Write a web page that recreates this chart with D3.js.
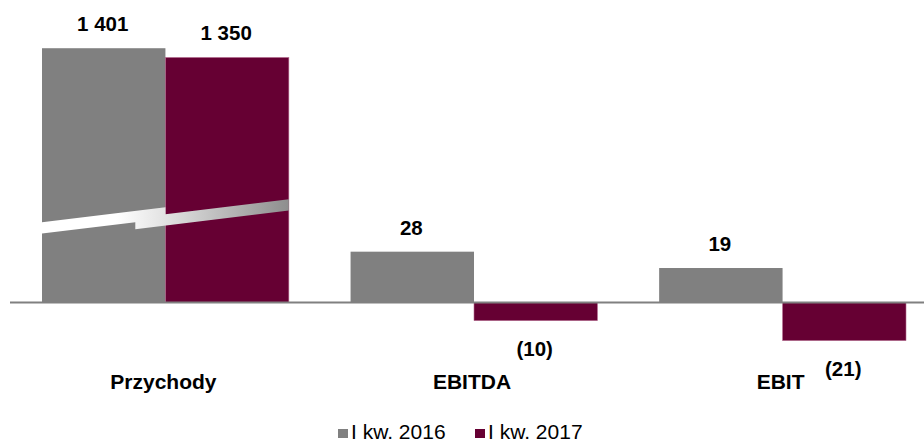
<!DOCTYPE html>
<html>
<head>
<meta charset="utf-8">
<script src="https://cdn.jsdelivr.net/npm/d3@7"></script>
<style>
  html, body { margin: 0; padding: 0; background: #fff; }
  svg { display: block; font-family: "Liberation Sans", Arial, Helvetica, sans-serif; }
</style>
</head>
<body>
<svg id="chart" width="924" height="443"></svg>
<script>
// ---- data ----
const categories = ["Przychody", "EBITDA", "EBIT"];
const seriesNames = ["I kw. 2016", "I kw. 2017"];
const values2016 = [1401, 28, 19];
const values2017 = [1350, -10, -21];
// Przychody drawn at 1/10 scale (broken axis)
const displayFactor = [0.1, 1, 1];
const brokenCategory = "Przychody";
const colors = ["#808080", "#660033"];

// ---- layout ----
const W = 924, H = 443;
const svg = d3.select("#chart");

const x0 = d3.scaleBand().domain(categories).range([42, 906]).paddingInner(0.2).paddingOuter(0);
const x1 = d3.scaleBand().domain([0, 1]).range([0, x0.bandwidth()]).padding(0);
const y = d3.scaleLinear().domain([-30, 150]).range([356.95, 30.25]);

const locale = d3.formatLocale({decimal: ",", thousands: " ", grouping: [3], currency: ["", " zł"]});
const fmtInt = locale.format(",d");
const fmt = v => v < 0 ? "(" + fmtInt(-v) + ")" : fmtInt(v);

const data = [];
categories.forEach((c, i) => {
  [values2016[i], values2017[i]].forEach((v, s) => {
    data.push({cat: c, s, v, dv: v * displayFactor[i]});
  });
});

// gradient for break band
const defs = svg.append("defs");
const bx = x0(brokenCategory);
const grad = defs.append("linearGradient")
  .attr("id", "breakGrad").attr("gradientUnits", "userSpaceOnUse")
  .attr("x1", bx).attr("x2", bx + x0.bandwidth()).attr("y1", 0).attr("y2", 0);
grad.append("stop").attr("offset", 0).attr("stop-color", "#ffffff");
grad.append("stop").attr("offset", 0.3).attr("stop-color", "#ffffff");
grad.append("stop").attr("offset", 0.5).attr("stop-color", "#e2e2e2");
grad.append("stop").attr("offset", 1).attr("stop-color", "#8e8e8e");

// bars
svg.append("g").selectAll("rect").data(data).join("rect")
  .attr("x", d => x0(d.cat) + x1(d.s))
  .attr("width", x1.bandwidth())
  .attr("y", d => Math.min(y(d.dv), y(0)))
  .attr("height", d => Math.abs(y(d.dv) - y(0)))
  .attr("fill", d => colors[d.s])
  .attr("stroke", d => d.s === 1 ? "#b56b8f" : "none")
  .attr("stroke-width", 0.6);

// break band across Przychody bars
(function () {
  const bw = x1.bandwidth();
  const slope = -0.122;
  const xl = bx, xm = bx + bw, xs = bx + bw * 0.756, xr = bx + 2 * bw;
  const t1 = y(44.2), th = 11.3, shift = 7;
  const L1t = xx => t1 + slope * (xx - xl);
  const L1b = xx => t1 + th + slope * (xx - xl);
  const L2t = xx => L1t(xx) + shift;
  const L2b = xx => L1b(xx) + shift;
  const pts = [
    [xl, L1t(xl)], [xm, L1t(xm)], [xm, L2t(xm)], [xr, L2t(xr)],
    [xr, L2b(xr)], [xs, L2b(xs)], [xs, L1b(xs)], [xl, L1b(xl)]
  ];
  svg.append("path").attr("d", d3.line()(pts) + "Z").attr("fill", "url(#breakGrad)");
})();

// baseline
svg.append("line")
  .attr("x1", 10).attr("x2", W)
  .attr("y1", y(0)).attr("y2", y(0))
  .attr("stroke", "#808080").attr("stroke-width", 2);

// value labels
svg.append("g").selectAll("text").data(data).join("text")
  .attr("x", d => x0(d.cat) + x1(d.s) + x1.bandwidth() / 2 - 1)
  .attr("y", d => d.v >= 0 ? y(d.dv) - 17 : y(d.dv) + 35)
  .attr("text-anchor", "middle")
  .attr("font-size", "20.5px").attr("font-weight", "bold").attr("fill", "#000")
  .text(d => fmt(d.v));

// category labels
svg.append("g").selectAll("text").data(categories).join("text")
  .attr("x", d => x0(d) + x0.bandwidth() / 2 - 2)
  .attr("y", 389)
  .attr("text-anchor", "middle")
  .attr("font-size", "21px").attr("font-weight", "bold").attr("fill", "#000")
  .text(d => d);

// legend
const legendX = [338, 475];
const lg = svg.append("g").selectAll("g").data(seriesNames).join("g")
  .attr("transform", (d, i) => `translate(${legendX[i]},0)`);
lg.append("rect").attr("x", 0).attr("y", 429).attr("width", 10).attr("height", 9)
  .attr("fill", (d, i) => colors[i]);
lg.append("text").attr("x", 13).attr("y", 438.5)
  .attr("font-size", "21px").attr("fill", "#000")
  .text(d => d);
</script>
</body>
</html>
